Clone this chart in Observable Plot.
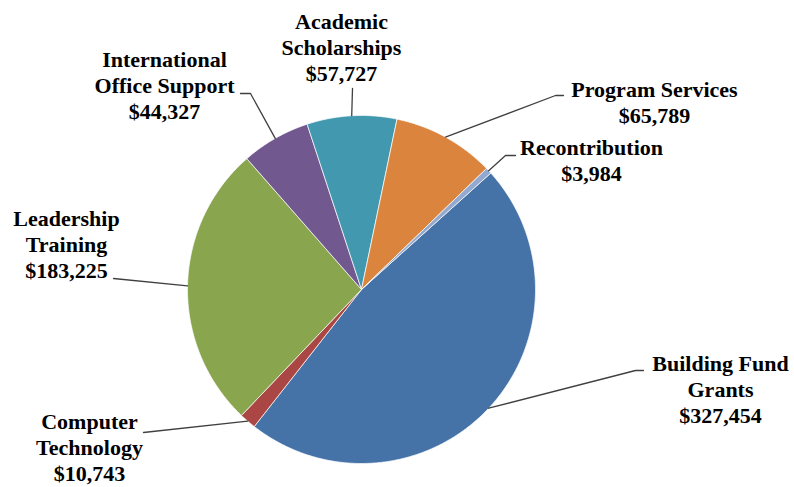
<!DOCTYPE html>
<html><head><meta charset="utf-8">
<script src="https://cdn.jsdelivr.net/npm/d3@7"></script>
<script src="https://cdn.jsdelivr.net/npm/@observablehq/plot@0.6"></script>
<style>body{margin:0;background:#fff}</style>
</head><body><div id="chart"></div>
<script>
// ---- data ----
const categories = ["Building Fund Grants","Computer Technology","Leadership Training","International Office Support","Academic Scholarships","Program Services","Recontribution"];
const labelLines = [["Building Fund","Grants"],["Computer","Technology"],["Leadership","Training"],["International","Office Support"],["Academic","Scholarships"],["Program Services"],["Recontribution"]];
const values = [327454, 10743, 183225, 44327, 57727, 65789, 3984];
const colors = ["#4572A7","#AA4643","#89A54E","#71588F","#4198AF","#DB843D","#93A9CF"];

// ---- layout (pixels) ----
const W = 794, H = 487, CX = 361, CY = 289, R = 174;
const firstSliceDeg = 48;
// label anchor (center x, last-line baseline y) and leader elbow points
const labelPos = [[720,422],[89,480],[66,277],[164,118],[341,80],[654,122],[591,180]];
const leaderPts = [
  [[635,370],[643,370]],
  [[143,432]],
  [[113,278]],
  [[250,93],[240,93]],
  [[352,88]],
  [[555,95],[563,95]],
  [[505,155],[515,155]]
];

const toU = ([px, py]) => [(px - CX) / R, (CY - py) / R];

const pie = d3.pie().sort(null)
  .startAngle(firstSliceDeg * Math.PI / 180)
  .endAngle(firstSliceDeg * Math.PI / 180 + 2 * Math.PI)(values);

const slicePts = [];
pie.forEach((a, i) => {
  slicePts.push({name: categories[i], x: 0, y: 0});
  const n = Math.max(2, Math.ceil((a.endAngle - a.startAngle) / (Math.PI / 360)));
  for (let k = 0; k <= n; k++) {
    const t = a.startAngle + (a.endAngle - a.startAngle) * k / n;
    slicePts.push({name: categories[i], x: Math.sin(t), y: Math.cos(t)});
  }
  slicePts.push({name: categories[i], x: 0, y: 0});
});

const leaderData = [];
pie.forEach((a, i) => {
  const m = (a.startAngle + a.endAngle) / 2;
  leaderData.push({name: categories[i], x: Math.sin(m), y: Math.cos(m)});
  leaderPts[i].forEach(p => { const u = toU(p); leaderData.push({name: categories[i], x: u[0], y: u[1]}); });
});

const fmt = d3.format(",");
const labels = categories.map((c, i) => {
  const u = toU(labelPos[i]);
  return {name: c, x: u[0], y: u[1], text: [...labelLines[i], "$" + fmt(values[i])].join("\n")};
});

const chart = Plot.plot({
  width: W, height: H,
  margin: 0,
  x: {domain: [(0 - CX) / R, (W - CX) / R], axis: null},
  y: {domain: [(CY - H) / R, CY / R], axis: null},
  color: {domain: categories, range: colors},
  style: {background: "#fff"},
  marks: [
    Plot.line(slicePts, {x: "x", y: "y", z: "name", fill: "name", stroke: "#fff", strokeWidth: 1, strokeOpacity: 0.7, curve: "linear-closed"}),
    Plot.line(leaderData, {x: "x", y: "y", z: "name", stroke: "#404040", strokeWidth: 1.3}),
    Plot.text(labels, {x: "x", y: "y", text: "text", textAnchor: "middle", lineAnchor: "bottom", lineHeight: 1.18,
      fontFamily: "Liberation Serif", fontWeight: "bold", fontSize: 22, fill: "#000"})
  ]
});
document.getElementById("chart").appendChild(chart);
</script>
</body></html>
